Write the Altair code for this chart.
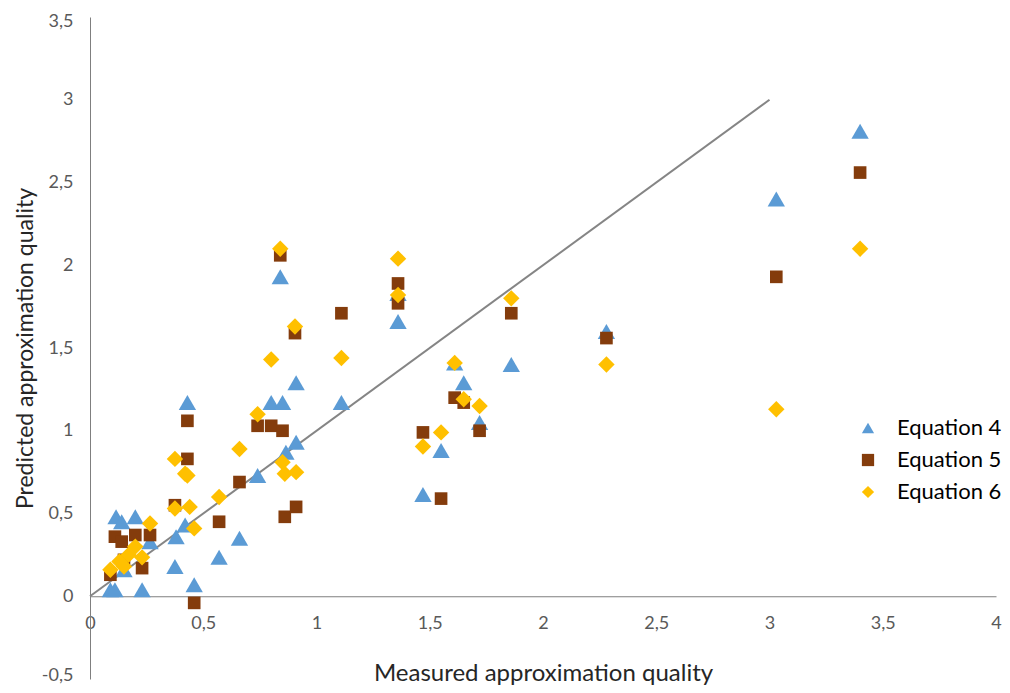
import altair as alt
import pandas as pd

# Equation 4 (triangles)
eq4_x = [0.09, 0.11, 0.115, 0.14, 0.15, 0.20, 0.23, 0.265, 0.375, 0.38, 0.42, 0.43, 0.46, 0.57, 0.66,
         0.74, 0.80, 0.84, 0.85, 0.865, 0.91, 0.91, 1.11, 1.36, 1.36, 1.47, 1.55, 1.61, 1.65, 1.72,
         1.86, 2.28, 3.03, 3.40]
eq4_y = [0.04, 0.04, 0.48, 0.45, 0.16, 0.48, 0.04, 0.33, 0.18, 0.36, 0.43, 1.17, 0.07, 0.235, 0.35,
         0.73, 1.17, 1.93, 1.17, 0.87, 0.93, 1.29, 1.17, 1.83, 1.66, 0.615, 0.88, 1.41, 1.29, 1.05,
         1.40, 1.60, 2.40, 2.81]

# Equation 5 (squares)
eq5_x = [0.09, 0.11, 0.14, 0.15, 0.20, 0.23, 0.265, 0.375, 0.43, 0.43, 0.46, 0.57, 0.66, 0.74, 0.80,
         0.84, 0.85, 0.86, 0.905, 0.91, 1.11, 1.36, 1.36, 1.47, 1.55, 1.61, 1.65, 1.72, 1.86, 2.28,
         3.03, 3.40]
eq5_y = [0.13, 0.36, 0.33, 0.22, 0.37, 0.17, 0.37, 0.55, 0.83, 1.06, -0.04, 0.45, 0.69, 1.03, 1.03,
         2.06, 1.00, 0.48, 1.59, 0.54, 1.71, 1.89, 1.77, 0.99, 0.59, 1.20, 1.17, 1.00, 1.71, 1.56,
         1.93, 2.56]

# Equation 6 (diamonds)
eq6_x = [0.09, 0.13, 0.15, 0.17, 0.20, 0.23, 0.265, 0.375, 0.375, 0.42, 0.43, 0.44, 0.46, 0.57, 0.66,
         0.74, 0.80, 0.84, 0.85, 0.86, 0.905, 0.91, 1.11, 1.36, 1.36, 1.47, 1.55, 1.61, 1.65, 1.72,
         1.86, 2.28, 3.03, 3.40]
eq6_y = [0.16, 0.21, 0.18, 0.25, 0.30, 0.235, 0.44, 0.83, 0.53, 0.74, 0.73, 0.54, 0.41, 0.60, 0.89,
         1.10, 1.43, 2.10, 0.81, 0.74, 1.63, 0.75, 1.44, 2.04, 1.82, 0.905, 0.99, 1.41, 1.19, 1.15,
         1.80, 1.40, 1.13, 2.10]

# Reference line y = x
ref_x = [0, 3]
ref_y = [0, 3]

series_names = ["Equation 4", "Equation 5", "Equation 6"]
series_colors = ["#5B9BD5", "#843C0C", "#FFC000"]
series_shapes = ["triangle-up", "square", "diamond"]
series_sizes = [300, 160, 270]

x_ticks = [0, 0.5, 1, 1.5, 2, 2.5, 3, 3.5, 4]
y_ticks = [-0.5, 0, 0.5, 1, 1.5, 2, 2.5, 3, 3.5]

FONT = "Lato"
W, H = 906, 662
y_dom = [-0.5, 3.5]
x_dom = [0, 4]
x_axis_offset = -H * (0 - y_dom[0]) / (y_dom[1] - y_dom[0])

frames = [
    pd.DataFrame({"x": eq4_x, "y": eq4_y, "series": series_names[0]}),
    pd.DataFrame({"x": eq5_x, "y": eq5_y, "series": series_names[1]}),
    pd.DataFrame({"x": eq6_x, "y": eq6_y, "series": series_names[2]}),
]
ref_df = pd.DataFrame({"x": ref_x, "y": ref_y})

label_expr = "replace(toString(datum.value), '.', ',')"

x_enc = alt.X("x:Q", scale=alt.Scale(domain=x_dom, nice=False, zero=False),
              axis=alt.Axis(values=x_ticks, labelExpr=label_expr, offset=x_axis_offset,
                            title="Measured approximation quality", grid=False, ticks=False,
                            labelFlush=False,
                            labelPadding=18, titlePadding=29, domainColor="#7F7F7F",
                            labelColor="#595959", labelFontSize=18, labelFont=FONT,
                            titleFont=FONT, titleFontSize=24, titleFontWeight="normal",
                            titleColor="#262626"))
y_enc = alt.Y("y:Q", scale=alt.Scale(domain=y_dom, nice=False, zero=False),
              axis=alt.Axis(values=y_ticks, labelExpr=label_expr,
                            title="Predicted approximation quality", grid=False, ticks=False,
                            labelFlush=True, labelFlushOffset=5,
                            labelPadding=17, titlePadding=4, domainColor="#7F7F7F",
                            labelColor="#595959", labelFontSize=18, labelFont=FONT,
                            titleFont=FONT, titleFontSize=23, titleFontWeight="normal",
                            titleColor="#262626"))

line = alt.Chart(ref_df).mark_line(color="#858585", strokeWidth=2).encode(x=x_enc, y=y_enc)

color_enc = alt.Color("series:N", scale=alt.Scale(domain=series_names, range=series_colors),
                      legend=alt.Legend(title=None, orient="none", legendX=767, legendY=400,
                                        labelFont=FONT, labelFontSize=22, labelColor="#000000",
                                        symbolSize=150, symbolStrokeWidth=0, rowPadding=10,
                                        labelOffset=18))
shape_enc = alt.Shape("series:N", scale=alt.Scale(domain=series_names, range=series_shapes))

layers = [line]
for df, size in zip(frames, series_sizes):
    layers.append(
        alt.Chart(df).mark_point(filled=True, opacity=1, size=size, strokeWidth=0).encode(
            x="x:Q", y="y:Q", color=color_enc, shape=shape_enc
        )
    )

chart = alt.layer(*layers).properties(
    width=W, height=H,
    autosize=alt.AutoSizeParams(type="none"),
    padding={"left": 82, "top": 9, "right": 6, "bottom": 6},
).configure_view(stroke=None)

chart.save("out.html", embed_options={"renderer": "svg", "actions": False})
